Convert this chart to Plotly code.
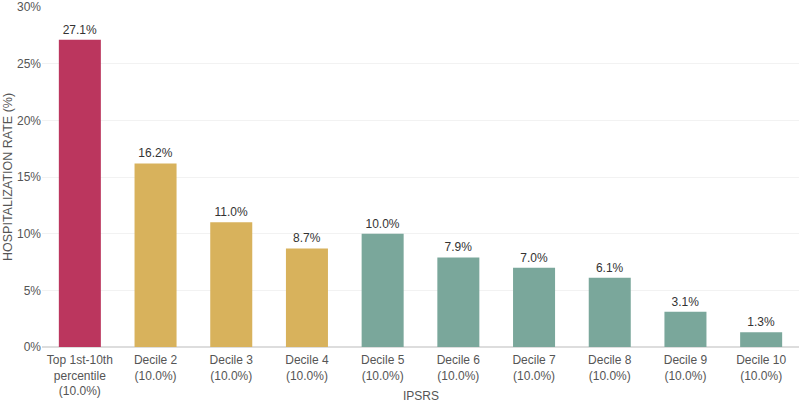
import plotly.graph_objects as go

categories = ["Top 1st-10th<br>percentile<br>(10.0%)", "Decile 2<br>(10.0%)", "Decile 3<br>(10.0%)",
              "Decile 4<br>(10.0%)", "Decile 5<br>(10.0%)", "Decile 6<br>(10.0%)", "Decile 7<br>(10.0%)",
              "Decile 8<br>(10.0%)", "Decile 9<br>(10.0%)", "Decile 10<br>(10.0%)"]
rates = [27.1, 16.2, 11.0, 8.7, 10.0, 7.9, 7.0, 6.1, 3.1, 1.3]
groups = ["top", "mid", "mid", "mid", "low", "low", "low", "low", "low", "low"]
group_colors = {"top": "rgb(187,54,94)", "mid": "rgb(216,178,92)", "low": "rgb(122,167,155)"}
y_tickvals = [0, 5, 10, 15, 20, 25, 30]
y_ticktext = [f"{v}%" for v in y_tickvals]

fig = go.Figure(go.Bar(
    x=categories,
    y=rates,
    marker=dict(color=[group_colors[g] for g in groups], line=dict(width=0)),
    text=[f"{v:.1f}%" for v in rates],
    textposition="outside",
    textfont=dict(size=12, color="#333333"),
    cliponaxis=False,
))

fig.update_layout(
    width=800, height=402,
    margin=dict(l=42, r=1, t=7, b=55),
    plot_bgcolor="white", paper_bgcolor="white",
    font=dict(family="Liberation Sans, Arial, sans-serif", size=12, color="#555555"),
    bargap=0.445,
    showlegend=False,
    xaxis=dict(
        showgrid=False, showline=False, ticks="", automargin=False,
        ticklabelstandoff=4,
        tickfont=dict(size=12, color="#555555"),
    ),
    yaxis=dict(
        range=[0, 30], tickvals=y_tickvals, ticktext=y_ticktext,
        showgrid=True, gridcolor="#f2f2f2", gridwidth=1,
        zeroline=True, zerolinecolor="#dddddd", zerolinewidth=2,
        showline=False, ticks="", automargin=False, ticklabeloverflow="allow",
        tickfont=dict(size=12, color="#555555"),
    ),
    annotations=[
        dict(text="IPSRS", x=0.5, y=0, xref="paper", yref="paper",
             xanchor="center", yanchor="middle", yshift=-49, showarrow=False,
             font=dict(size=12, color="#555555")),
        dict(text="HOSPITALIZATION RATE (%)", x=0, y=0.5, xref="paper", yref="paper",
             xanchor="center", yanchor="middle", xshift=-34, textangle=-90, showarrow=False,
             font=dict(size=12.5, color="#555555")),
    ],
)

fig.write_html("out.html", config={"displayModeBar": False},
               post_script="document.body.style.margin='0';")
